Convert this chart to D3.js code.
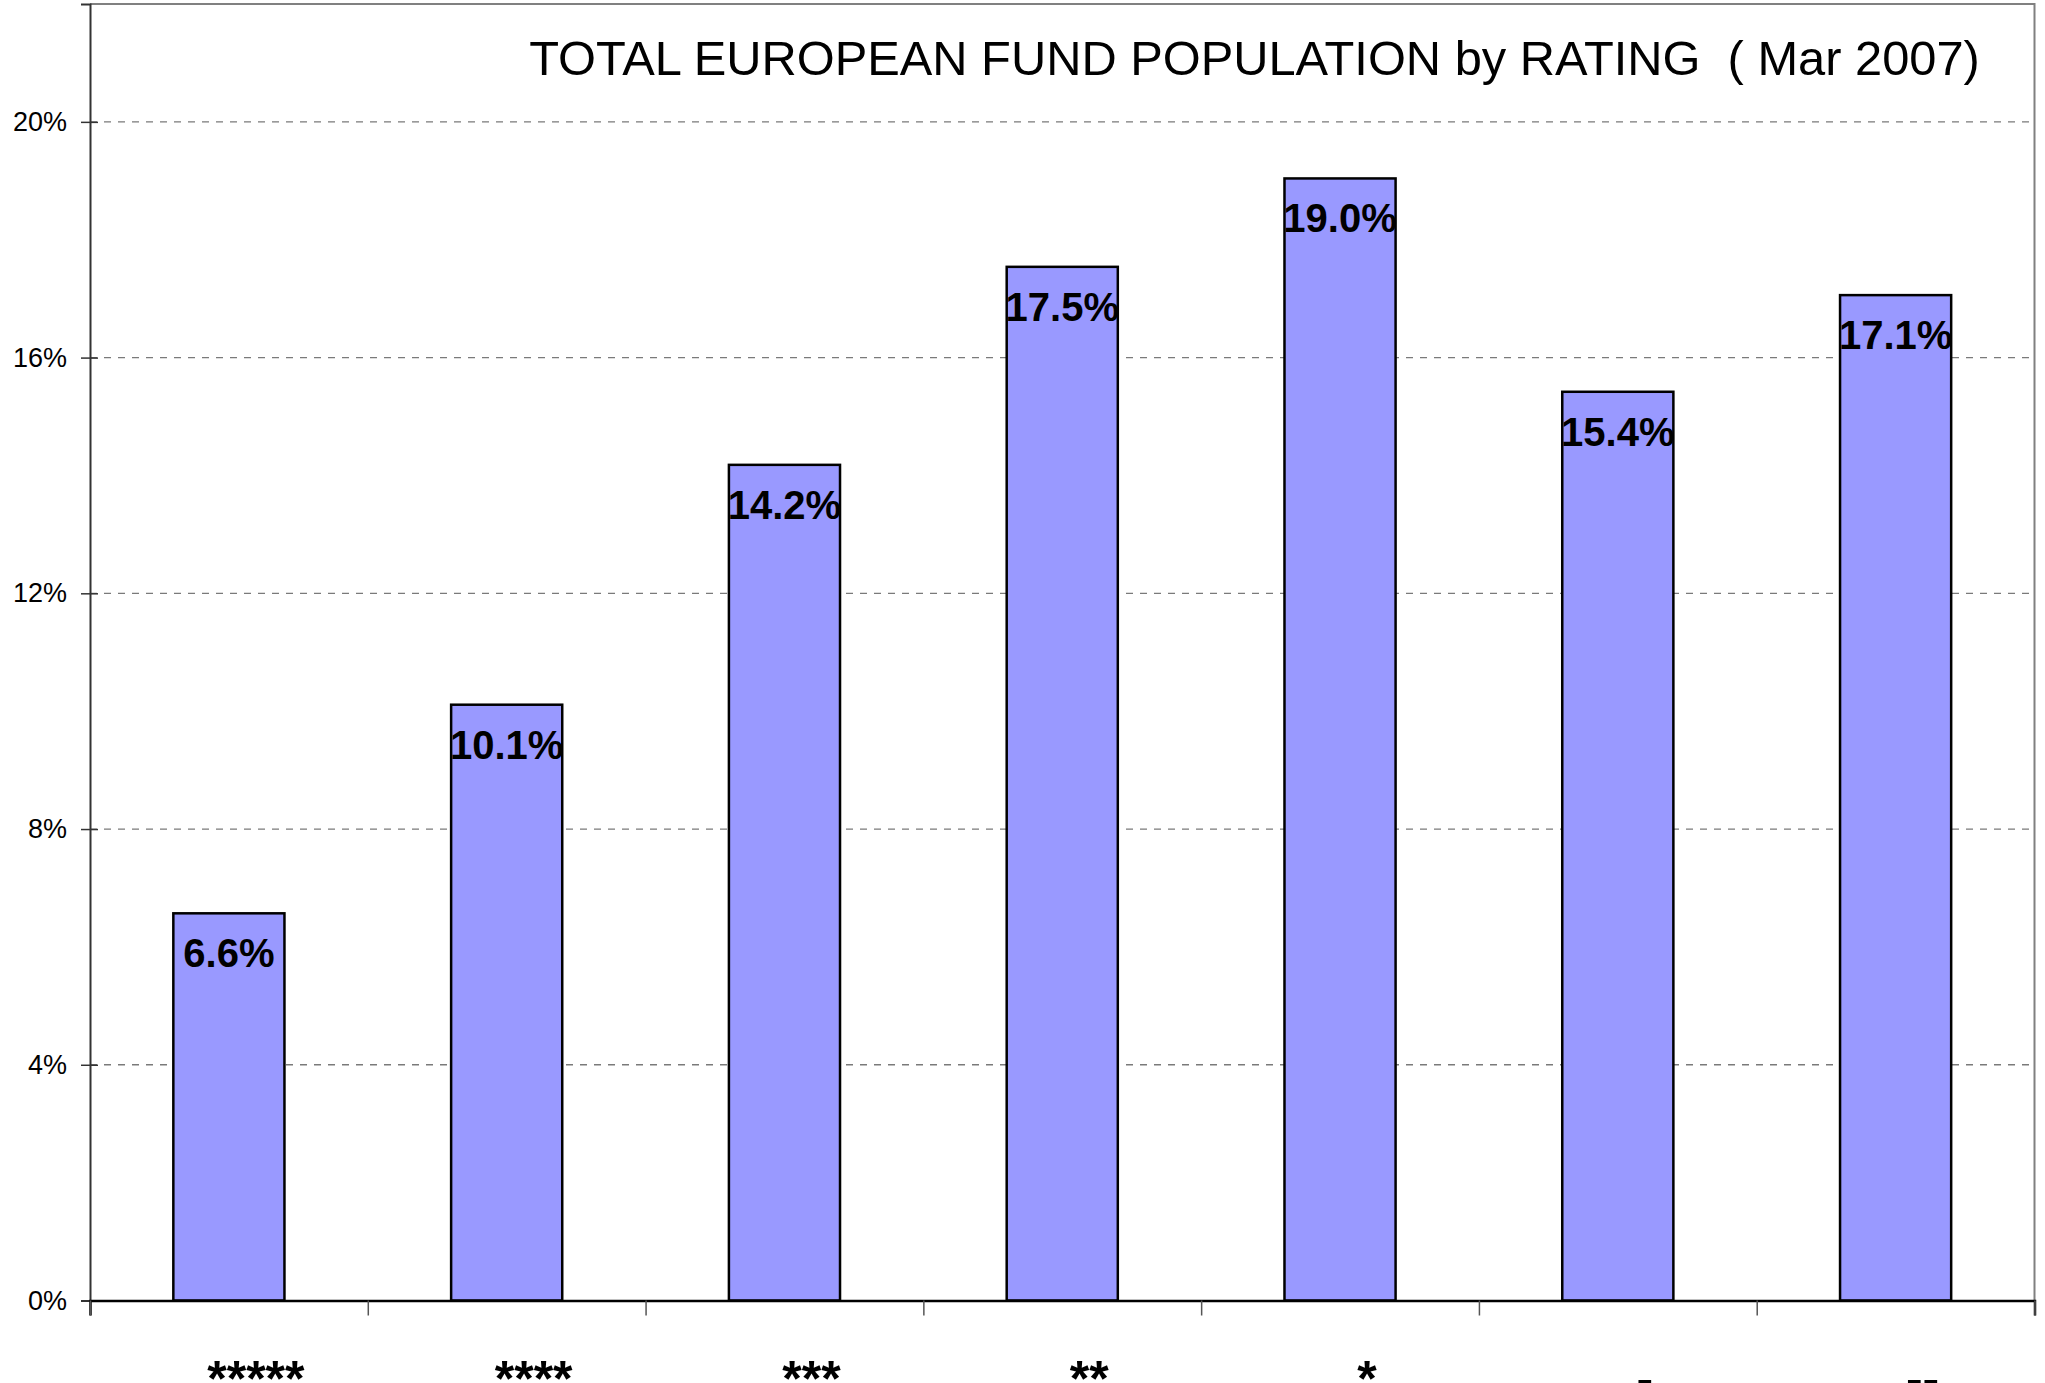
<!DOCTYPE html>
<html>
<head>
<meta charset="utf-8">
<script src="https://cdn.jsdelivr.net/npm/d3@7"></script>
<style>
  body { margin:0; background:#ffffff; }
  svg { display:block; font-family:"Liberation Sans", Arial, sans-serif; }
</style>
</head>
<body>
<svg id="chart" width="2045" height="1383"></svg>
<script>
// ---data (labels shown to 1 decimal)------------------------
var categories = ["*****", "****", "***", "**", "*", "-", "--"]
var shares = [6.57, 10.11, 14.18, 17.54, 19.04, 15.42, 17.06]
var yTicks = [0, 4, 8, 12, 16, 20]
var chartTitle = "TOTAL EUROPEAN FUND POPULATION by RATING  ( Mar 2007)"

var plotLeft = 90, plotRight = 2034.5, plotTop = 4, plotBottom = 1300.5
var width = plotRight - plotLeft, height = plotBottom - plotTop

var svg = d3.select("#chart")
var plot = svg.append("g").attr("transform", "translate(" + plotLeft + "," + plotTop + ")")

var xScale = d3.scaleBand()
    .domain(categories)
    .range([0, width])
    .paddingInner(0.6)
    .paddingOuter(0.3)

// boundaries between categories carry the x ticks
var xEdge = d3.scaleLinear()
    .domain([0, categories.length])
    .range([0, width])

var yScale = d3.scaleLinear()
    .domain([0, 22])
    .range([height, 0])

// gridlines
plot.append("g")
    .selectAll("line")
    .data(yTicks.filter(function(d) { return d > 0 }))
    .enter().append("line")
    .attr("x1", 0)
    .attr("x2", width)
    .attr("y1", function(d) { return yScale(d) })
    .attr("y2", function(d) { return yScale(d) })
    .attr("stroke", "#7a7a7a")
    .attr("stroke-width", 1.3)
    .attr("stroke-dasharray", "7,7")

// frame top + right
plot.append("path")
    .attr("d", "M0,0H" + width + "V" + height)
    .attr("fill", "none")
    .attr("stroke", "#808080")
    .attr("stroke-width", 2)

// bars
plot.append("g")
    .selectAll("rect")
    .data(shares)
    .enter().append("rect")
    .attr("x", function(d, i) { return xScale(categories[i]) })
    .attr("y", function(d) { return yScale(d) })
    .attr("width", xScale.bandwidth())
    .attr("height", function(d) { return height - yScale(d) })
    .attr("fill", "#9999ff")
    .attr("stroke", "#000000")
    .attr("stroke-width", 2.5)

// value labels
plot.append("g")
    .selectAll("text")
    .data(shares)
    .enter().append("text")
    .attr("x", function(d, i) { return xScale(categories[i]) + xScale.bandwidth() / 2 })
    .attr("y", function(d) { return yScale(d) + 54 })
    .attr("text-anchor", "middle")
    .attr("font-size", "40px")
    .attr("font-weight", "bold")
    .attr("fill", "#000000")
    .text(function(d) { return d.toFixed(1) + "%" })

// y axis (ticks cross the axis line)
var yAxis = plot.append("g")
    .call(d3.axisLeft(yScale)
        .tickValues(yTicks)
        .tickSize(9)
        .tickPadding(14)
        .tickFormat(function(d) { return d + "%" }))
yAxis.select(".domain").attr("stroke", "#333333").attr("stroke-width", 2)
yAxis.selectAll(".tick line")
    .attr("x1", 8)
    .attr("x2", -9)
    .attr("stroke", "#333333")
    .attr("stroke-width", 1.5)
yAxis.selectAll("text")
    .attr("font-size", "27px")
    .attr("font-family", "'Liberation Sans', Arial, sans-serif")
    .attr("fill", "#000000")

// x axis
var xAxis = plot.append("g")
    .attr("transform", "translate(0," + height + ")")
    .call(d3.axisBottom(xEdge)
        .tickValues(d3.range(categories.length + 1))
        .tickSize(15)
        .tickFormat(""))
xAxis.select(".domain").attr("stroke", "#000000").attr("stroke-width", 2.5)
xAxis.selectAll(".tick line").attr("stroke", "#555555").attr("stroke-width", 1.5)

// category labels
plot.append("g")
    .selectAll("text")
    .data(categories)
    .enter().append("text")
    .attr("x", function(d) { return xScale(d) + xScale.bandwidth() / 2 })
    .attr("dx", 27)
    .attr("y", height + 95)
    .attr("text-anchor", "middle")
    .attr("font-size", "50px")
    .attr("font-weight", "bold")
    .attr("fill", "#000000")
    .text(function(d) { return d })

// title
svg.append("text")
    .attr("x", 1254.5)
    .attr("y", 75)
    .attr("text-anchor", "middle")
    .attr("font-size", "48.8px")
    .attr("fill", "#000000")
    .attr("xml:space", "preserve")
    .style("white-space", "pre")
    .text(chartTitle)
</script>
</body>
</html>
